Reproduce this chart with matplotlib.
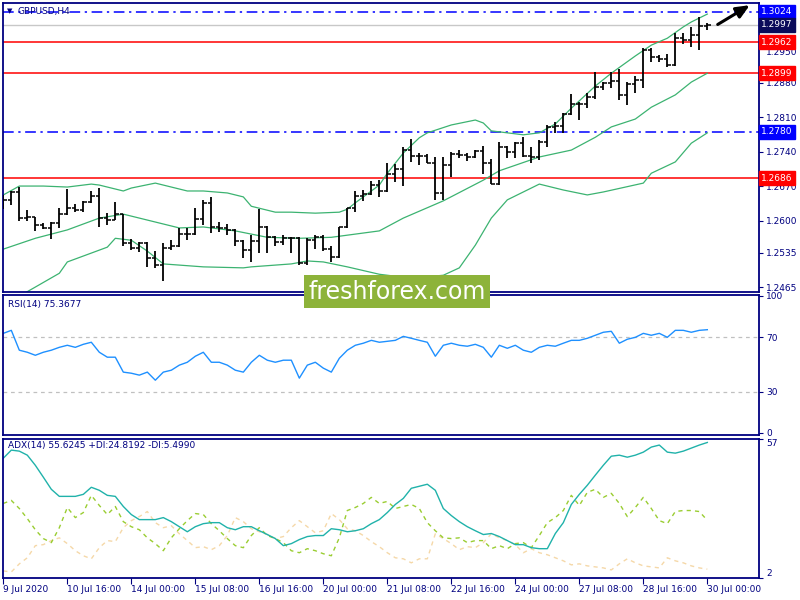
import matplotlib
matplotlib.use("Agg")
import matplotlib.pyplot as plt
from matplotlib.patches import Rectangle
from matplotlib.transforms import blended_transform_factory

#%% DATA
symbol = "GBPUSD,H4"

opens  = [1.2638, 1.2641, 1.2657, 1.2606, 1.2608, 1.2591, 1.2585, 1.2596, 1.2614, 1.2625,
          1.2621, 1.2638, 1.2650, 1.2606, 1.2602, 1.2614, 1.2554, 1.2545, 1.2554, 1.2525,
          1.2510, 1.2545, 1.2548, 1.2573, 1.2573, 1.2604, 1.2635, 1.2586, 1.2584, 1.2581,
          1.2558, 1.2540, 1.2558, 1.2587, 1.2567, 1.2557, 1.2564, 1.2564, 1.2514, 1.2560,
          1.2567, 1.2543, 1.2527, 1.2586, 1.2625, 1.2650, 1.2654, 1.2672, 1.2660, 1.2694,
          1.2704, 1.2743, 1.2731, 1.2731, 1.2717, 1.2655, 1.2712, 1.2736, 1.2733, 1.2729,
          1.2742, 1.2717, 1.2675, 1.2750, 1.2740, 1.2757, 1.2731, 1.2728, 1.2760, 1.2790,
          1.2792, 1.2816, 1.2836, 1.2836, 1.2851, 1.2872, 1.2880, 1.2884, 1.2855, 1.2877,
          1.2886, 1.2947, 1.2931, 1.2927, 1.2916, 1.2970, 1.2966, 1.2977, 1.2995]
highs  = [1.2652, 1.2660, 1.2669, 1.2621, 1.2608, 1.2596, 1.2598, 1.2625, 1.2664, 1.2633,
          1.2640, 1.2659, 1.2667, 1.2616, 1.2637, 1.2614, 1.2562, 1.2556, 1.2557, 1.2539,
          1.2554, 1.2560, 1.2584, 1.2584, 1.2625, 1.2642, 1.2647, 1.2598, 1.2592, 1.2583,
          1.2560, 1.2571, 1.2623, 1.2589, 1.2569, 1.2571, 1.2566, 1.2566, 1.2564, 1.2571,
          1.2571, 1.2548, 1.2587, 1.2625, 1.2659, 1.2661, 1.2681, 1.2683, 1.2716, 1.2714,
          1.2750, 1.2765, 1.2738, 1.2736, 1.2728, 1.2729, 1.2740, 1.2743, 1.2738, 1.2744,
          1.2751, 1.2724, 1.2760, 1.2752, 1.2760, 1.2770, 1.2750, 1.2763, 1.2794, 1.2800,
          1.2819, 1.2857, 1.2841, 1.2858, 1.2902, 1.2882, 1.2902, 1.2907, 1.2882, 1.2893,
          1.2951, 1.2951, 1.2936, 1.2938, 1.2980, 1.2981, 1.2993, 1.3014, 1.3000]
lows   = [1.2623, 1.2631, 1.2599, 1.2599, 1.2579, 1.2582, 1.2562, 1.2584, 1.2612, 1.2617,
          1.2618, 1.2635, 1.2587, 1.2591, 1.2601, 1.2548, 1.2540, 1.2537, 1.2505, 1.2504,
          1.2478, 1.2540, 1.2546, 1.2560, 1.2571, 1.2591, 1.2574, 1.2577, 1.2571, 1.2548,
          1.2523, 1.2516, 1.2535, 1.2535, 1.2548, 1.2550, 1.2535, 1.2510, 1.2510, 1.2543,
          1.2539, 1.2516, 1.2525, 1.2584, 1.2618, 1.2640, 1.2652, 1.2648, 1.2658, 1.2679,
          1.2670, 1.2719, 1.2712, 1.2716, 1.2641, 1.2641, 1.2689, 1.2726, 1.2721, 1.2726,
          1.2694, 1.2674, 1.2672, 1.2726, 1.2726, 1.2729, 1.2716, 1.2723, 1.2750, 1.2778,
          1.2778, 1.2814, 1.2805, 1.2828, 1.2846, 1.2865, 1.2868, 1.2845, 1.2834, 1.2858,
          1.2870, 1.2922, 1.2922, 1.2911, 1.2914, 1.2958, 1.2953, 1.2947, 1.2987]
closes = [1.2641, 1.2657, 1.2606, 1.2608, 1.2591, 1.2585, 1.2596, 1.2614, 1.2625, 1.2621,
          1.2638, 1.2650, 1.2606, 1.2602, 1.2614, 1.2554, 1.2545, 1.2554, 1.2525, 1.2510,
          1.2545, 1.2548, 1.2573, 1.2573, 1.2604, 1.2635, 1.2586, 1.2584, 1.2581, 1.2558,
          1.2540, 1.2558, 1.2587, 1.2567, 1.2557, 1.2564, 1.2564, 1.2514, 1.2560, 1.2567,
          1.2543, 1.2527, 1.2586, 1.2625, 1.2650, 1.2654, 1.2672, 1.2660, 1.2694, 1.2704,
          1.2743, 1.2731, 1.2731, 1.2717, 1.2655, 1.2712, 1.2736, 1.2733, 1.2729, 1.2742,
          1.2717, 1.2675, 1.2750, 1.2740, 1.2757, 1.2731, 1.2728, 1.2760, 1.2790, 1.2792,
          1.2816, 1.2836, 1.2836, 1.2851, 1.2872, 1.2880, 1.2884, 1.2855, 1.2877, 1.2886,
          1.2947, 1.2931, 1.2927, 1.2916, 1.2970, 1.2966, 1.2977, 1.2995, 1.2997]

# Bollinger bands at some bars
bb_up_idx = [0, 2, 5, 8, 11, 12, 15, 16, 19, 20, 23, 25, 28, 30, 31, 34, 36, 39, 42, 43, 44,
             45, 47, 48, 50, 52, 53, 56, 59, 60, 61, 65, 67, 69, 71, 74, 76, 79, 81, 83, 85, 86, 88]
bb_up    = [1.2652, 1.2670, 1.2670, 1.2668, 1.2674, 1.2672, 1.2660, 1.2666, 1.2676, 1.2672,
            1.2660, 1.2660, 1.2656, 1.2648, 1.2629, 1.2617, 1.2617, 1.2615, 1.2617, 1.2623,
            1.2636, 1.2648, 1.2672, 1.2696, 1.2737, 1.2768, 1.2778, 1.2794, 1.2804, 1.2798,
            1.2782, 1.2774, 1.2778, 1.2796, 1.2828, 1.2873, 1.2899, 1.2934, 1.2956, 1.2970,
            1.2993, 1.3003, 1.3019]
bb_mid_idx = [0, 4, 8, 12, 15, 18, 22, 25, 29, 33, 37, 41, 47, 50, 55, 60, 62, 67, 71, 74,
              76, 79, 81, 84, 86, 88]
bb_mid   = [1.2542, 1.2564, 1.2581, 1.2605, 1.2613, 1.2601, 1.2585, 1.2587, 1.2579, 1.2566,
            1.2564, 1.2566, 1.2579, 1.2605, 1.2640, 1.2682, 1.2701, 1.2729, 1.2743, 1.2769,
            1.2790, 1.2806, 1.2830, 1.2855, 1.2881, 1.2899]
bb_low_idx = [0, 4, 7, 8, 13, 14, 16, 18, 20, 25, 30, 31, 36, 38, 40, 43, 47, 51, 55, 57,
              59, 61, 63, 67, 70, 73, 75, 80, 81, 84, 86, 88]
bb_low   = [1.2428, 1.2465, 1.2493, 1.2516, 1.2546, 1.2564, 1.2560, 1.2538, 1.2512, 1.2506,
            1.2504, 1.2506, 1.2512, 1.2518, 1.2516, 1.2506, 1.2491, 1.2483, 1.2489, 1.2504,
            1.2550, 1.2605, 1.2642, 1.2674, 1.2662, 1.2652, 1.2658, 1.2676, 1.2696, 1.2719,
            1.2757, 1.2778]

rsi = [72.7, 74.9, 60.4, 58.9, 56.7, 58.9, 60.4, 62.5, 64.0, 62.5,
       64.7, 66.2, 58.9, 55.3, 55.3, 44.4, 43.6, 42.2, 44.4, 38.5,
       44.4, 45.8, 49.5, 51.6, 56.0, 58.9, 51.6, 51.6, 49.5, 45.8,
       44.4, 51.6, 56.7, 53.1, 51.6, 53.1, 53.1, 40.0, 49.5, 51.6,
       47.3, 44.4, 54.5, 60.4, 64.0, 65.5, 67.6, 66.2, 66.9, 67.6,
       70.5, 69.1, 67.6, 66.2, 56.0, 64.0, 65.5, 64.0, 63.3, 64.7,
       62.5, 55.3, 64.0, 61.8, 64.0, 60.4, 58.9, 62.5, 64.0, 63.3,
       65.5, 67.6, 67.6, 69.1, 71.3, 73.5, 74.2, 65.5, 68.4, 69.8,
       72.7, 71.3, 72.7, 69.8, 74.9, 74.9, 73.5, 74.9, 75.3677]

adx = [49.4, 52.6, 52.2, 50.6, 46.6, 41.9, 37.1, 34.3, 34.3, 34.3,
       35.1, 37.9, 36.7, 34.7, 34.3, 30.3, 27.1, 25.1, 25.1, 25.1,
       25.9, 24.3, 22.3, 20.3, 22.3, 23.5, 23.9, 23.9, 21.9, 21.1,
       22.3, 22.3, 20.7, 19.2, 17.6, 14.8, 15.6, 17.2, 18.4, 18.8,
       18.8, 21.5, 21.1, 20.3, 20.7, 21.5, 23.5, 25.1, 27.9, 31.1,
       33.5, 37.5, 38.3, 39.1, 36.7, 29.5, 26.7, 24.3, 22.3, 20.7,
       19.2, 19.6, 18.4, 16.8, 15.2, 15.2, 14.0, 13.6, 13.6, 19.6,
       23.9, 31.1, 35.1, 38.7, 42.7, 46.6, 50.2, 50.6, 49.8, 50.6,
       51.8, 53.8, 54.6, 51.8, 51.4, 52.2, 53.4, 54.6, 55.6245]
plus_di = [31.5, 32.7, 29.5, 25.5, 21.1, 17.6, 16.0, 21.9, 29.9, 25.9,
           27.9, 34.7, 30.7, 27.1, 30.3, 24.3, 22.3, 21.1, 17.9, 15.6,
           12.8, 17.9, 21.5, 24.7, 27.5, 27.1, 23.5, 20.7, 17.6, 14.8,
           14.0, 18.8, 21.9, 18.8, 17.6, 16.0, 12.8, 12.0, 13.6, 12.8,
           11.6, 10.8, 17.9, 28.7, 29.9, 31.5, 33.9, 31.5, 32.3, 29.5,
           30.3, 31.1, 29.5, 23.9, 20.7, 17.9, 17.6, 17.9, 16.0, 16.8,
           16.8, 13.6, 14.8, 13.6, 15.6, 16.0, 14.0, 18.8, 23.9, 25.9,
           28.7, 34.7, 30.7, 35.9, 37.1, 33.9, 35.5, 31.5, 26.3, 29.9,
           33.9, 29.5, 24.7, 23.5, 28.3, 28.7, 28.7, 28.3, 24.8192]
minus_di = [4.8, 4.4, 7.6, 10.0, 14.8, 15.2, 16.8, 17.9, 15.6, 12.8,
            10.8, 9.6, 14.0, 16.8, 16.4, 21.9, 24.7, 26.3, 28.3, 23.9,
            21.9, 22.7, 19.5, 16.8, 14.0, 14.4, 13.2, 14.8, 18.8, 25.9,
            24.3, 21.5, 20.3, 19.2, 17.6, 18.4, 21.9, 24.7, 22.3, 19.9,
            20.7, 27.5, 25.1, 21.5, 20.7, 18.8, 16.4, 14.4, 12.0, 10.0,
            9.6, 8.0, 9.6, 9.6, 19.5, 17.6, 15.6, 13.2, 14.4, 14.0,
            16.0, 19.5, 17.9, 16.8, 15.2, 12.0, 13.6, 12.0, 11.2, 10.0,
            8.8, 7.2, 7.6, 6.8, 6.4, 6.0, 5.2, 7.6, 9.6, 8.0,
            6.8, 6.4, 6.0, 10.0, 8.8, 8.0, 6.8, 6.0, 5.499]

# price levels drawn on the chart
red_levels  = [1.2962, 1.2899, 1.2686]
blue_levels = [1.3024, 1.2780]
bid = 1.2997
price_ticks = [1.2465, 1.2535, 1.2600, 1.2670, 1.2740, 1.2810, 1.2880, 1.2950]

time_idx    = [0, 8, 16, 24, 32, 40, 48, 56, 64, 72, 80, 88]
time_labels = ["9 Jul 2020", "10 Jul 16:00", "14 Jul 00:00", "15 Jul 08:00",
               "16 Jul 16:00", "20 Jul 00:00", "21 Jul 08:00", "22 Jul 16:00",
               "24 Jul 00:00", "27 Jul 08:00", "28 Jul 16:00", "30 Jul 00:00"]

# hand-drawn arrow (bar, price)
arrow_tail = (89.0, 1.2995)
arrow_head = (93.6, 1.3040)

#%% STYLE
NAVY = "#000080"
FS = 6.5
xr = (-0.04, 94.46)

fig = plt.figure(figsize=(8, 6), dpi=100)
W, H = 800.0, 600.0
def box(top, bottom):
    return [3 / W, 1 - bottom / H, 756 / W, (bottom - top) / H]

ax1 = fig.add_axes(box(3, 292))
ax2 = fig.add_axes(box(295, 435))
ax3 = fig.add_axes(box(439, 578))

for ax in (ax1, ax2, ax3):
    ax.set_xlim(*xr)
    for s in ax.spines.values():
        s.set_color(NAVY)
        s.set_linewidth(1.3)
    ax.yaxis.tick_right()
    ax.tick_params(axis="y", colors=NAVY, labelcolor=NAVY, labelsize=FS,
                   direction="out", length=3, width=0.8, pad=2)
    ax.tick_params(axis="x", bottom=False, labelbottom=False)

#%% PANEL 1: PRICE BARS + BOLLINGER
n = len(closes)
idx = list(range(n))
ax1.set_ylim(1.2455, 1.30415)
ax1.set_yticks(price_ticks)
ax1.set_yticklabels(["%.4f" % p for p in price_ticks])
for lab in ax1.get_yticklabels():
    lab.set_ha("left")
ax1.get_yticklabels()[-1].set_va("top")     # 1.2950 sits just under the 1.2962 box

for lv in red_levels:
    ax1.axhline(lv, color="red", lw=1.1, zorder=1)
for lv in blue_levels:
    ax1.axhline(lv, color="blue", lw=1.1, dashes=(7, 3, 1.5, 3), zorder=1)
ax1.axhline(bid, color="#C8C8C8", lw=1.0, zorder=1)

ax1.plot(bb_up_idx, bb_up, color="#3CB371", lw=0.9, zorder=2)
ax1.plot(bb_mid_idx, bb_mid, color="#3CB371", lw=0.9, zorder=2)
ax1.plot(bb_low_idx, bb_low, color="#3CB371", lw=0.9, zorder=2)

ax1.vlines(idx, lows, highs, color="black", lw=1.3, zorder=3)
ax1.hlines(opens, [i - 0.4 for i in idx], idx, color="black", lw=1.1, zorder=3)
ax1.hlines(closes, idx, [i + 0.4 for i in idx], color="black", lw=1.1, zorder=3)

ax1.text(0.005, 0.972, "▼", transform=ax1.transAxes, fontsize=5, color=NAVY, va="center")
ax1.text(0.019, 0.972, symbol, transform=ax1.transAxes, fontsize=FS, color=NAVY, va="center")

# price labels on the right scale
tr = blended_transform_factory(ax1.transAxes, ax1.transData)
labels = [(l, "red") for l in red_levels] + [(l, "blue") for l in blue_levels] + [(bid, "#0A0A5A")]
for lv, c in labels:
    ax1.text(1.003, lv, "%.4f" % lv, transform=tr, fontsize=FS, color="white",
             va="center", ha="left", zorder=10, clip_on=False,
             bbox=dict(boxstyle="square,pad=0.25", fc=c, ec=c))

ax1.annotate("", xy=arrow_head, xytext=arrow_tail,
             arrowprops=dict(arrowstyle="-|>,head_length=0.8,head_width=0.35",
                             color="black", lw=2.2), annotation_clip=False)

#%% PANEL 2: RSI
ax2.set_ylim(-1.5, 100.7)
ax2.set_yticks([0, 30, 70, 100])
ax2.set_yticklabels(["0", "30", "70", "100"])
for lab in ax2.get_yticklabels():
    lab.set_ha("left")
for lv in (30, 70):
    ax2.axhline(lv, color="#C0C0C0", lw=0.9, dashes=(3, 3))
ax2.plot(idx, rsi, color="#1E90FF", lw=1.0)
ax2.text(0.006, 0.93, "RSI(14) %.4f" % rsi[-1], transform=ax2.transAxes,
         fontsize=FS, color=NAVY, va="center")

#%% PANEL 3: ADX
ax3.set_ylim(2, 57)
ax3.set_yticks([2, 57])
ax3.set_yticklabels(["2", "57"])
for lab in ax3.get_yticklabels():
    lab.set_ha("left")
ax3.get_yticklabels()[0].set_va("bottom")
ax3.get_yticklabels()[1].set_va("top")
ax3.plot(idx, minus_di, color="#F5D8A8", lw=1.0, dashes=(3, 3))
ax3.plot(idx, plus_di, color="#9ACD32", lw=1.0, dashes=(3, 3))
ax3.plot(idx, adx, color="#20B2AA", lw=1.0)
ax3.text(0.006, 0.95, "ADX(14) %.4f +DI:%.4f -DI:%.4f" % (adx[-1], plus_di[-1], minus_di[-1]),
         transform=ax3.transAxes, fontsize=FS, color=NAVY, va="center")

ax3.set_xticks(time_idx)
ax3.set_xticklabels(time_labels)
ax3.tick_params(axis="x", bottom=True, labelbottom=True, colors=NAVY, labelcolor=NAVY,
                labelsize=FS, direction="out", length=4, width=0.8, pad=1)
for lab in ax3.get_xticklabels():
    lab.set_ha("left")

#%% WATERMARK
fig.patches.append(Rectangle((304 / W, 1 - 308 / H), 186 / W, 33 / H,
                             transform=fig.transFigure, fc="#8DB33A", ec="none", zorder=20))
fig.text(397 / W, 1 - 292 / H, "freshforex.com", color="white", fontsize=17,
         ha="center", va="center", zorder=21)

fig.savefig("out.png", dpi=100)
